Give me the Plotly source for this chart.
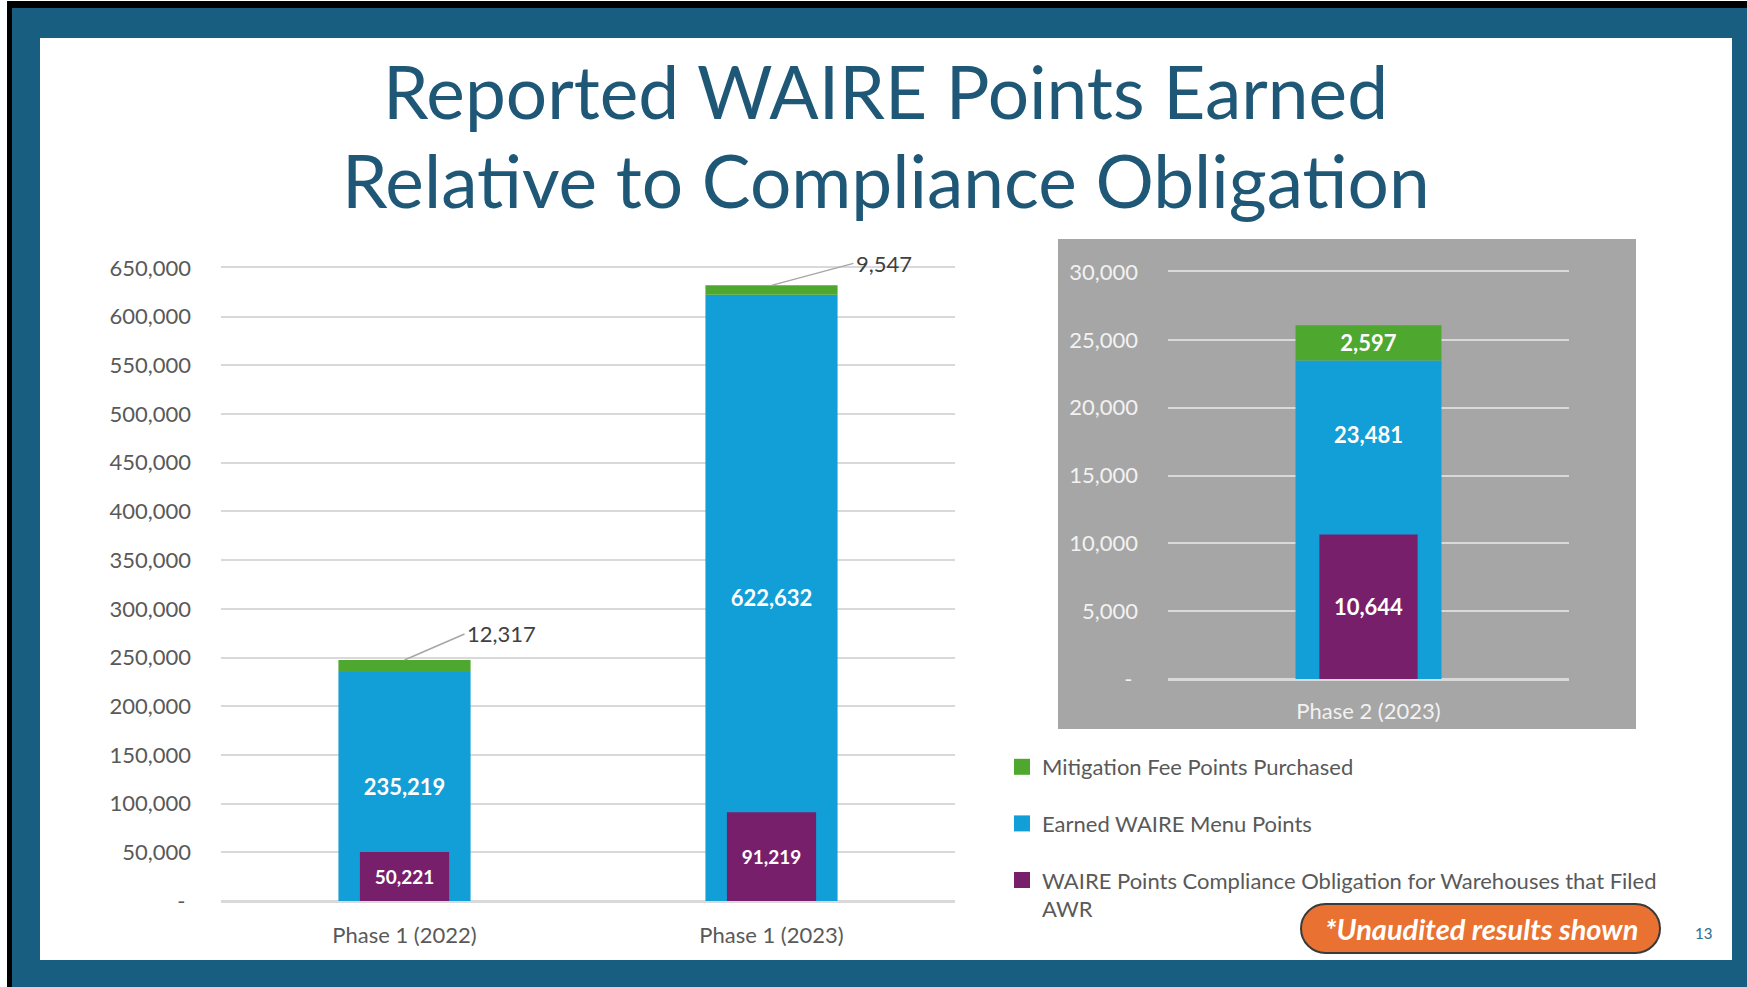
import plotly.graph_objects as go

W, H = 1747, 987

# ---------------- data ----------------
left_categories = ["Phase 1 (2022)", "Phase 1 (2023)"]
left_earned = [235219, 622632]
left_mitigation = [12317, 9547]
left_obligation = [50221, 91219]

right_categories = ["Phase 2 (2023)"]
right_earned = [23481]
right_mitigation = [2597]
right_obligation = [10644]

left_ticks = list(range(0, 650001, 50000))
right_ticks = list(range(0, 30001, 5000))

name_mitigation = "Mitigation Fee Points Purchased"
name_earned = "Earned WAIRE Menu Points"
name_obligation = "WAIRE Points Compliance Obligation for Warehouses that Filed<br>AWR"

title_lines = ["Reported WAIRE Points Earned", "Relative to Compliance Obligation"]
badge_text = "*Unaudited results shown"
page_number = "13"

# ---------------- style ----------------
FONT = "Lato"
BLUE = "#129ED6"
GREEN = "#4EA72E"
PURPLE = "#781F6C"
FRAME = "#175E80"
TITLE = "#1F5877"
TICK = "#595959"
GRID = "#D9D9D9"
PANEL = "#A6A6A6"
LIGHT = "#F2F2F2"
ORANGE = "#E97132"


def px(x):
    return x / W


def py(y):
    return 1 - y / H


def fmt(v):
    return f"{v:,}" if v else "-\u00a0"


fig = go.Figure()

# ---------- left chart ----------
fig.add_trace(go.Bar(
    x=left_categories, y=left_earned, width=0.36, marker=dict(color=BLUE, line=dict(width=0)),
    showlegend=False,
    text=[f"<b>{v:,}</b>" for v in left_earned], textposition="inside",
    insidetextanchor="middle", constraintext="none",
    textfont=dict(color="white", size=22, family=FONT),
    xaxis="x", yaxis="y", hoverinfo="skip"))
fig.add_trace(go.Bar(
    x=left_categories, y=left_mitigation, base=left_earned, width=0.36,
    marker=dict(color=GREEN, line=dict(width=0)), showlegend=False,
    xaxis="x", yaxis="y", hoverinfo="skip"))
fig.add_trace(go.Bar(
    x=left_categories, y=left_obligation, width=0.243, marker=dict(color=PURPLE, line=dict(width=0)),
    showlegend=False,
    text=[f"<b>{v:,}</b>" for v in left_obligation], textposition="inside",
    insidetextanchor="middle", constraintext="none",
    textfont=dict(color="white", size=19, family=FONT),
    xaxis="x", yaxis="y", hoverinfo="skip"))

# ---------- right chart ----------
fig.add_trace(go.Bar(
    x=right_categories, y=right_earned, width=0.364, marker=dict(color=BLUE, line=dict(width=0)),
    showlegend=False, xaxis="x2", yaxis="y2", hoverinfo="skip"))
fig.add_trace(go.Bar(
    x=right_categories, y=right_mitigation, base=right_earned, width=0.364,
    marker=dict(color=GREEN, line=dict(width=0)),
    text=[f"<b>{v:,}</b>" for v in right_mitigation], textposition="inside",
    insidetextanchor="middle", constraintext="none",
    textfont=dict(color="white", size=22, family=FONT),
    showlegend=False, xaxis="x2", yaxis="y2", hoverinfo="skip"))
fig.add_trace(go.Bar(
    x=right_categories, y=right_obligation, width=0.245, marker=dict(color=PURPLE, line=dict(width=0)),
    text=[f"<b>{v:,}</b>" for v in right_obligation], textposition="inside",
    insidetextanchor="middle", constraintext="none",
    textfont=dict(color="white", size=22, family=FONT),
    showlegend=False, xaxis="x2", yaxis="y2", hoverinfo="skip"))

# ---------- legend entries (square swatches) ----------
for rank, (nm, col) in enumerate([(name_mitigation, GREEN), (name_earned, BLUE),
                                  (name_obligation, PURPLE)], start=1):
    fig.add_trace(go.Scatter(
        x=[None], y=[None], mode="markers", name=nm, legendgroup=f"g{rank}", legendrank=rank,
        marker=dict(symbol="square", size=16, color=col, line=dict(width=0)),
        xaxis="x", yaxis="y", hoverinfo="skip"))

annotations = []
# titles
for i, line in enumerate(title_lines):
    annotations.append(dict(text=line, xref="paper", yref="paper", x=px(886), y=py(91 + 88.5 * i),
                            xanchor="center", yanchor="middle", showarrow=False,
                            font=dict(family=FONT, size=73, color=TITLE)))

# green labels with leader lines (left chart)
leader_offsets = [(60, -26), (82, -22)]
for cat, e, m, (ax, ay) in zip(left_categories, left_earned, left_mitigation, leader_offsets):
    annotations.append(dict(text=f"{m:,}", x=cat, y=e + m, xref="x", yref="y",
                            showarrow=True, arrowhead=0, arrowwidth=1.5, arrowcolor="#A6A6A6",
                            ax=ax, ay=ay, xanchor="left", yanchor="middle",
                            font=dict(family=FONT, size=22, color="#404040")))

# blue label on right chart (placed in visible part of blue bar)
for cat, e, o in zip(right_categories, right_earned, right_obligation):
    annotations.append(dict(text=f"<b>{e:,}</b>", x=cat, y=(e + o) / 2, xref="x2", yref="y2",
                            yshift=13, showarrow=False,
                            font=dict(family=FONT, size=22, color="white")))

# badge text and page number
annotations.append(dict(text=f"<b><i>{badge_text}</i></b>", xref="paper", yref="paper",
                        x=px(1481), y=py(928), showarrow=False, xanchor="center", yanchor="middle",
                        font=dict(family=FONT, size=29, color="white")))
annotations.append(dict(text=page_number, xref="paper", yref="paper", x=px(1703), y=py(933),
                        showarrow=False, xanchor="center", yanchor="middle",
                        font=dict(family=FONT, size=15, color="#2A6D8E")))

# ---------- shapes (frame, panel, badge) ----------
shapes = [
    dict(type="rect", xref="paper", yref="paper", x0=px(7), x1=1, y0=0, y1=py(1),
         fillcolor="black", line=dict(width=0), layer="below"),
    dict(type="rect", xref="paper", yref="paper", x0=px(12), x1=1, y0=0, y1=py(8),
         fillcolor=FRAME, line=dict(width=0), layer="below"),
    dict(type="rect", xref="paper", yref="paper", x0=px(40), x1=px(1732), y0=py(960), y1=py(38),
         fillcolor="white", line=dict(width=0), layer="below"),
    dict(type="rect", xref="paper", yref="paper", x0=px(1058), x1=px(1636), y0=py(729), y1=py(239),
         fillcolor=PANEL, line=dict(width=0), layer="below"),
]

x0, x1, y0, y1 = 1301, 1660, 904, 953
r = (y1 - y0) / 2
yc = (y0 + y1) / 2
k = 0.5523 * r
pts = [
    ("M", [(x0 + r, y0)]),
    ("L", [(x1 - r, y0)]),
    ("C", [(x1 - r + k, y0), (x1, yc - k), (x1, yc)]),
    ("C", [(x1, yc + k), (x1 - r + k, y1), (x1 - r, y1)]),
    ("L", [(x0 + r, y1)]),
    ("C", [(x0 + r - k, y1), (x0, yc + k), (x0, yc)]),
    ("C", [(x0, yc - k), (x0 + r - k, y0), (x0 + r, y0)]),
]
path = " ".join(cmd + " ".join(f"{px(a):.5f},{py(b):.5f}" for a, b in p) for cmd, p in pts) + " Z"
shapes.append(dict(type="path", xref="paper", yref="paper", path=path,
                   fillcolor=ORANGE, line=dict(color="#3A3A3A", width=2)))

fig.update_layout(
    width=W, height=H, margin=dict(l=0, r=0, t=0, b=0, pad=0, autoexpand=False),
    paper_bgcolor="white", plot_bgcolor="rgba(0,0,0,0)",
    font=dict(family=FONT, color=TICK),
    barmode="overlay",
    xaxis=dict(domain=[px(221), px(955)], anchor="y", type="category",
               categoryorder="array", categoryarray=left_categories, range=[-0.5, 1.5],
               showgrid=False, zeroline=False, showline=True, mirror=True,
               linecolor=GRID, linewidth=1.5, ticks="", automargin=False,
               tickfont=dict(size=22, color=TICK), ticklabelstandoff=14),
    yaxis=dict(domain=[py(901), py(268)], anchor="x", range=[0, 650000],
               tickvals=left_ticks, ticktext=[fmt(v) for v in left_ticks],
               showgrid=True, gridcolor=GRID, gridwidth=1.5, automargin=False,
               zeroline=True, zerolinecolor=GRID, zerolinewidth=1.5, showline=False, ticks="",
               tickfont=dict(size=22, color=TICK), ticklabelstandoff=29),
    xaxis2=dict(domain=[px(1168), px(1569)], anchor="y2", type="category",
                categoryorder="array", categoryarray=right_categories, range=[-0.5, 0.5],
                showgrid=False, zeroline=False, showline=True, mirror=True,
                linecolor=GRID, linewidth=1.5, ticks="", automargin=False,
                tickfont=dict(size=22, color=LIGHT), ticklabelstandoff=12),
    yaxis2=dict(domain=[py(679), py(272)], anchor="x2", range=[0, 30000],
                tickvals=right_ticks, ticktext=[fmt(v) for v in right_ticks],
                showgrid=True, gridcolor=GRID, gridwidth=1.5, automargin=False,
                zeroline=True, zerolinecolor=GRID, zerolinewidth=1.5, showline=False, ticks="",
                tickfont=dict(size=22, color=LIGHT), ticklabelstandoff=29),
    legend=dict(x=px(1002), y=py(746), xanchor="left", yanchor="top",
                font=dict(family=FONT, size=22, color=TICK), bgcolor="rgba(0,0,0,0)",
                traceorder="grouped", tracegroupgap=25, valign="top", itemwidth=30),
    annotations=annotations, shapes=shapes,
)

post = ("var gd=document.getElementById('{plot_id}');"
        "document.body.style.margin='0px';document.body.style.overflow='hidden';"
        "gd.style.position='fixed';gd.style.left='0px';gd.style.top='0px';")
fig.write_html("out.html", post_script=post, config={"displayModeBar": False})
